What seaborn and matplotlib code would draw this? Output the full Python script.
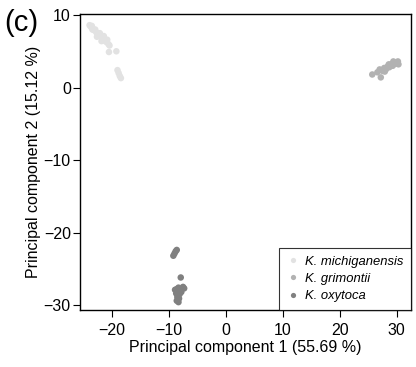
import matplotlib
matplotlib.use("Agg")
import matplotlib.pyplot as plt
import seaborn as sns
import pandas as pd

sns.set_style("ticks", {"text.color": "black", "axes.labelcolor": "black",
                        "xtick.color": "black", "ytick.color": "black"})
plt.rcParams["font.family"] = ["Liberation Sans", "DejaVu Sans"]

species = ["K. michiganensis", "K. grimontii", "K. oxytoca"]
colors = ["#e2e2e2", "#b2b2b2", "#808080"]

mich_pc1 = [-23.9, -23.7, -23.5, -23.3, -23.1, -22.9, -22.7, -22.5, -22.3, -22.1,
            -21.9, -21.6, -21.4, -21.2, -21.0, -20.8, -20.6, -20.4, -20.5, -19.2,
            -19.0, -18.8, -18.6, -18.4, -23.4, -22.6, -21.8]
mich_pc2 = [8.6, 8.4, 8.5, 8.1, 7.9, 8.0, 7.6, 7.4, 7.2, 7.5,
            7.0, 6.8, 7.1, 6.5, 6.3, 6.6, 6.0, 5.8, 4.9, 5.0,
            2.4, 2.0, 1.6, 1.3, 8.0, 7.0, 6.4]

grim_pc1 = [25.7, 26.6, 27.2, 27.0, 27.5, 27.8, 28.1, 28.4, 28.7, 29.0,
            29.3, 29.6, 29.9, 30.2, 30.3, 29.4, 28.6, 27.9]
grim_pc2 = [1.8, 2.1, 1.4, 2.5, 2.3, 2.7, 2.5, 2.9, 2.8, 3.2,
            3.0, 3.4, 3.3, 3.6, 3.2, 3.6, 3.2, 2.2]

oxy_pc1 = [-9.2, -9.0, -8.8, -8.6, -7.9, -8.9, -8.6, -8.3, -8.0, -7.5,
           -7.3, -8.7, -8.4, -8.1, -8.5, -8.2, -8.6, -8.3, -7.8]
oxy_pc2 = [-23.2, -22.9, -22.6, -22.4, -26.2, -27.9, -27.8, -27.6, -27.9, -27.5,
           -27.7, -28.4, -28.3, -28.5, -28.9, -29.1, -29.4, -29.6, -28.2]

df = pd.DataFrame({
    "pc1": mich_pc1 + grim_pc1 + oxy_pc1,
    "pc2": mich_pc2 + grim_pc2 + oxy_pc2,
    "species": [species[0]] * len(mich_pc1) + [species[1]] * len(grim_pc1)
               + [species[2]] * len(oxy_pc1),
})

fig = plt.figure(figsize=(4.16, 3.67), dpi=100)
ax = fig.add_axes([0.192, 0.155, 0.796, 0.807])

sns.scatterplot(data=df, x="pc1", y="pc2", hue="species", hue_order=species,
                palette=colors, s=22, linewidth=0, ax=ax)

ax.set_xlim(-25.6, 32.5)
ax.set_ylim(-30.7, 10.15)
ax.set_xticks([-20, -10, 0, 10, 20, 30])
ax.set_yticks([10, 0, -10, -20, -30])
ax.set_xticklabels(["\u221220", "\u221210", "0", "10", "20", "30"])
ax.set_yticklabels(["10", "0", "\u221210", "\u221220", "\u221230"])
ax.tick_params(labelsize=11.5, length=5, width=0.8, color="black")
ax.tick_params(axis="x", pad=4)
ax.tick_params(axis="y", pad=1.5)
for sp in ax.spines.values():
    sp.set_visible(True)
    sp.set_linewidth(1.0)
    sp.set_color("black")

ax.set_xlabel("Principal component 1 (55.69 %)", fontsize=11.5, labelpad=2)
ax.set_ylabel("Principal component 2 (15.12 %)", fontsize=11.5, labelpad=2)

leg = ax.legend(loc="lower right", borderaxespad=0, frameon=True, fancybox=False,
                fontsize=9.4, handletextpad=0.4, markerscale=0.8,
                borderpad=0.6, labelspacing=0.4, handlelength=1.0)
leg.get_frame().set_edgecolor("black")
leg.get_frame().set_linewidth(0.8)
for t in leg.get_texts():
    t.set_fontstyle("italic")

fig.text(0.01, 0.975, "(c)", fontsize=21, va="top", ha="left")

fig.savefig("out.png", dpi=100)
